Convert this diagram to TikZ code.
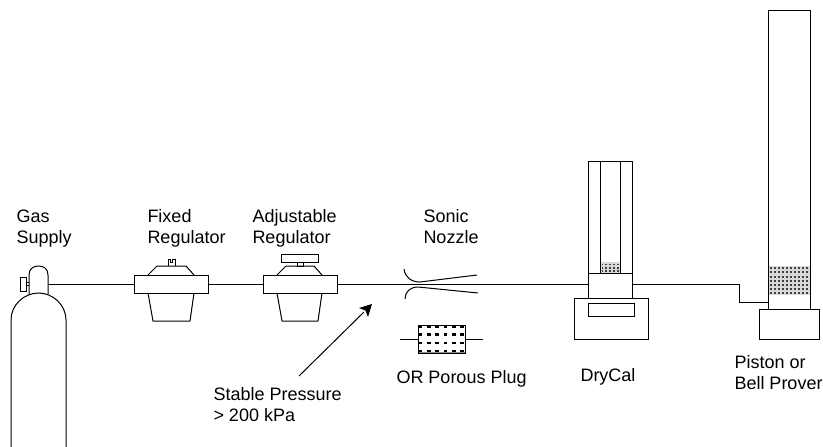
\documentclass[tikz,border=0pt]{standalone}
\usepackage{fontspec}
\setmainfont{Liberation Sans}
\begin{document}
\begin{tikzpicture}[x=1pt,y=-1pt,line width=1pt,
  part/.style={draw,rectangle,inner sep=0pt,outer sep=0pt},
  lbl/.style={anchor=north west,align=left,inner sep=0pt,font=\fontsize{18}{21}\selectfont},
  pipe/.style={line width=1pt},
  dotcell/.style={fill=black!75}]
\useasboundingbox (0,0) rectangle (823,447);
% gas cylinder
\draw (11,447) -- (11,320) .. controls (11,305) and (24,293) .. (38.5,293) .. controls (53,293) and (66,305) .. (66,320) -- (66,447);
\draw (29,295) -- (29,275) .. controls (29,269) and (33,266) .. (38.5,266) .. controls (44,266) and (48,269) .. (48,275) -- (48,294);
\node[part,minimum width=6pt,minimum height=14pt] (valve) at (23,284) {};
\draw (valve.east) ++(0,-1.5) -- ++(3,0) (valve.east) ++(0,1.5) -- ++(3,0);
\coordinate (neck) at (48,284);
% fixed regulator
\node[part,minimum width=74pt,minimum height=18pt] (fixed) at (171,284) {};
\draw (148,275) -- (157,266) -- (186,266) -- (194,275);
\draw (148,293) -- (153,321) -- (190,321) -- (194,293);
\draw (168.5,266) -- (168.5,259.5) -- (170.5,259.5) -- (170.5,262) -- (172.5,262) -- (172.5,259.5) -- (175,259.5) -- (175,266);
% adjustable regulator
\node[part,minimum width=74pt,minimum height=18pt] (adjust) at (300,284) {};
\draw (277,275) -- (286,266) -- (314,266) -- (322,275);
\draw (277,293) -- (282,321) -- (318,321) -- (322,293);
\node[part,minimum width=6pt,minimum height=4pt] (stem) at (300,264) {};
\node[part,minimum width=37pt,minimum height=8pt] (handle) at (299.5,258) {};
% sonic nozzle
\draw (404,269) .. controls (405,277) and (411,282) .. (420,282) -- (477,275);
\draw (405,299) .. controls (405,292) and (410,287) .. (418,287) -- (478,293);
% porous plug
\coordinate (plugL) at (400,339);
\coordinate (plugR) at (483,339);
\node[part,minimum width=47pt,minimum height=28pt] (plug) at (441.5,339) {};
\draw (plugL) -- (plug.west) (plug.east) -- (plugR);
\foreach \yy in {326.5,334.3,342.7,351}
  \foreach \xx in {0,...,5}
    \fill[black] (418.7+\xx*8.3,\yy-1.2) rectangle ++(3.6,2.4);
\fill[black!45] (418.5,351.6) rectangle (464.5,352.6);
% DryCal
\node[part,minimum width=44pt,minimum height=112pt] (drytube) at (610,217) {};
\fill[black!15] (600.5,262) rectangle (619.5,272.5);
\foreach \yy in {0,...,2}
  \foreach \xx in {0,...,4}
    \fill[dotcell] (601.5+\xx*3.9,263.5+\yy*3.4) rectangle ++(1.8,1.8);
\node[part,minimum width=20pt,minimum height=112pt] (dryin) at (610,217) {};
\node[part,minimum width=44pt,minimum height=25pt] (drybox) at (610,285.5) {};
\node[part,minimum width=74pt,minimum height=41pt] (drybase) at (611,318.5) {};
\node[part,minimum width=46pt,minimum height=13pt] (drywin) at (611,309.5) {};
% Piston prover
\fill[black!15] (768.5,266) rectangle (809.5,295);
\foreach \yy in {0,...,6}
  \foreach \xx in {0,...,9}
    \fill[dotcell] (769.7+\xx*4.05,267.3+\yy*4.15) rectangle ++(1.9,1.9);
\node[part,minimum width=42pt,minimum height=299pt] (prover) at (789,159.5) {};
\node[part,minimum width=60pt,minimum height=30pt] (probase) at (789,324) {};
% pipes
\draw[pipe] (neck) -- (fixed.west);
\draw[pipe] (fixed.east) -- (adjust.west);
\draw[pipe] (adjust.east) -- (drybox.west |- adjust.east);
\draw[pipe] (drybox.east |- adjust.east) -- (739,284) -- (739,302) -- (prover.west |- 0,302);
% arrow
\coordinate (arrowTail) at (299,376);
\coordinate (arrowTip) at (372,304);
\draw (arrowTail) -- (364,312);
\fill (arrowTip) -- (368,317) -- (365.5,310.5) -- (359,308) -- cycle;
% labels
\node[lbl] (lgas) at (16,209) {Gas\\Supply};
\node[lbl] (lfix) at (147,209) {Fixed\\Regulator};
\node[lbl] (ladj) at (252,209) {Adjustable\\Regulator};
\node[lbl] (lson) at (423,209) {Sonic\\Nozzle};
\node[lbl] (lstab) at (213,387) {Stable Pressure\\> 200 kPa};
\node[lbl] (lpor) at (396,370) {OR Porous Plug};
\node[lbl] (ldry) at (580,368) {DryCal};
\node[lbl] (lpis) at (734,355) {Piston or\\Bell Prover};
\end{tikzpicture}
\end{document}
